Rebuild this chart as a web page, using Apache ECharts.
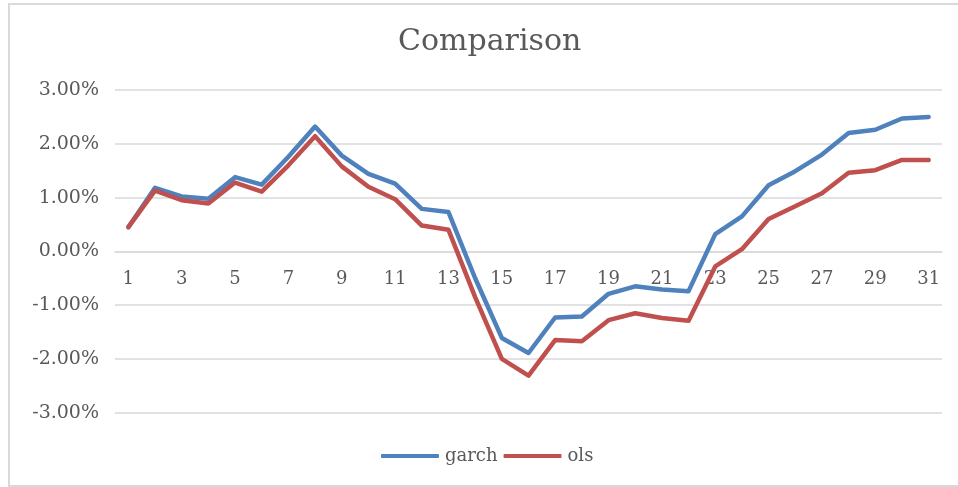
<!DOCTYPE html>
<html>
<head>
<meta charset="utf-8">
<script src="https://cdn.jsdelivr.net/npm/echarts@6/dist/echarts.min.js"></script>
<style>
  html, body { margin: 0; padding: 0; background: #ffffff; }
  #chart { width: 958px; height: 487px; }
</style>
</head>
<body>
<div id="chart"></div>
<script>
// Period index along the horizontal axis
const periods = ['1','2','3','4','5','6','7','8','9','10','11','12','13','14','15','16',
                 '17','18','19','20','21','22','23','24','25','26','27','28','29','30','31'];

// Values in percent
const garch = [0.45, 1.18, 1.02, 0.98, 1.38, 1.24, 1.76, 2.32, 1.78, 1.44, 1.26, 0.79, 0.73,
               -0.50, -1.61, -1.89, -1.23, -1.21, -0.79, -0.65, -0.71, -0.74, 0.32, 0.65,
               1.23, 1.49, 1.80, 2.20, 2.26, 2.47, 2.50];
const ols = [0.45, 1.13, 0.95, 0.89, 1.28, 1.11, 1.60, 2.14, 1.58, 1.20, 0.97, 0.48, 0.40,
             -0.85, -2.00, -2.31, -1.65, -1.67, -1.28, -1.15, -1.24, -1.29, -0.28, 0.04,
             0.60, 0.84, 1.08, 1.46, 1.51, 1.70, 1.70];

const seriesNames = ['garch', 'ols'];
const chartTitle = 'Comparison';

const FONT = '"DejaVu Serif", "Liberation Serif", serif';
const TEXT = '#595959';
const GRID = '#d9d9d9';

// Plot box; the category axis is raised to sit on the 0% line (middle of a symmetric range)
const PLOT_TOP = 90;
const PLOT_BOTTOM = 74.3;
const PLOT_HEIGHT = 487 - PLOT_TOP - PLOT_BOTTOM;

const chart = echarts.init(document.getElementById('chart'));
chart.setOption({
  backgroundColor: '#ffffff',
  animation: false,
  graphic: [{
    type: 'rect',
    shape: { x: 9, y: 4, width: 980, height: 482 },
    style: { fill: 'none', stroke: GRID, lineWidth: 2 },
    silent: true
  }],
  title: {
    text: chartTitle,
    left: 398,
    top: 27,
    padding: 0,
    textStyle: { fontFamily: FONT, fontSize: 30, fontWeight: 'normal', color: TEXT }
  },
  legend: {
    data: seriesNames,
    left: 381,
    top: 447,
    padding: 0,
    itemWidth: 58,
    itemHeight: 4,
    itemGap: 6,
    icon: 'roundRect',
    textStyle: { fontFamily: FONT, fontSize: 18, color: TEXT, padding: [0, 0, 0, 1] }
  },
  grid: { left: 115, right: 16, top: PLOT_TOP, bottom: PLOT_BOTTOM, containLabel: false },
  xAxis: {
    type: 'category',
    data: periods,
    boundaryGap: true,
    offset: -PLOT_HEIGHT / 2,
    axisLine: { onZero: false, lineStyle: { color: GRID, width: 1.5 } },
    axisTick: { show: false },
    axisLabel: { interval: 1, margin: 19, fontFamily: FONT, fontSize: 18, color: TEXT }
  },
  yAxis: {
    type: 'value',
    min: -3,
    max: 3,
    interval: 1,
    axisLine: { show: false },
    axisTick: { show: false },
    splitLine: { lineStyle: { color: GRID, width: 1.5 } },
    axisLabel: {
      margin: 16,
      fontFamily: FONT, fontSize: 19, color: TEXT,
      formatter: v => v.toFixed(2) + '%'
    }
  },
  series: [
    {
      name: seriesNames[0], type: 'line', data: garch, symbol: 'none',
      itemStyle: { color: '#4f81bd' },
      lineStyle: { color: '#4f81bd', width: 4.5, cap: 'round', join: 'round' }
    },
    {
      name: seriesNames[1], type: 'line', data: ols, symbol: 'none',
      itemStyle: { color: '#c0504d' },
      lineStyle: { color: '#c0504d', width: 4.5, cap: 'round', join: 'round' }
    }
  ]
});
</script>
</body>
</html>
